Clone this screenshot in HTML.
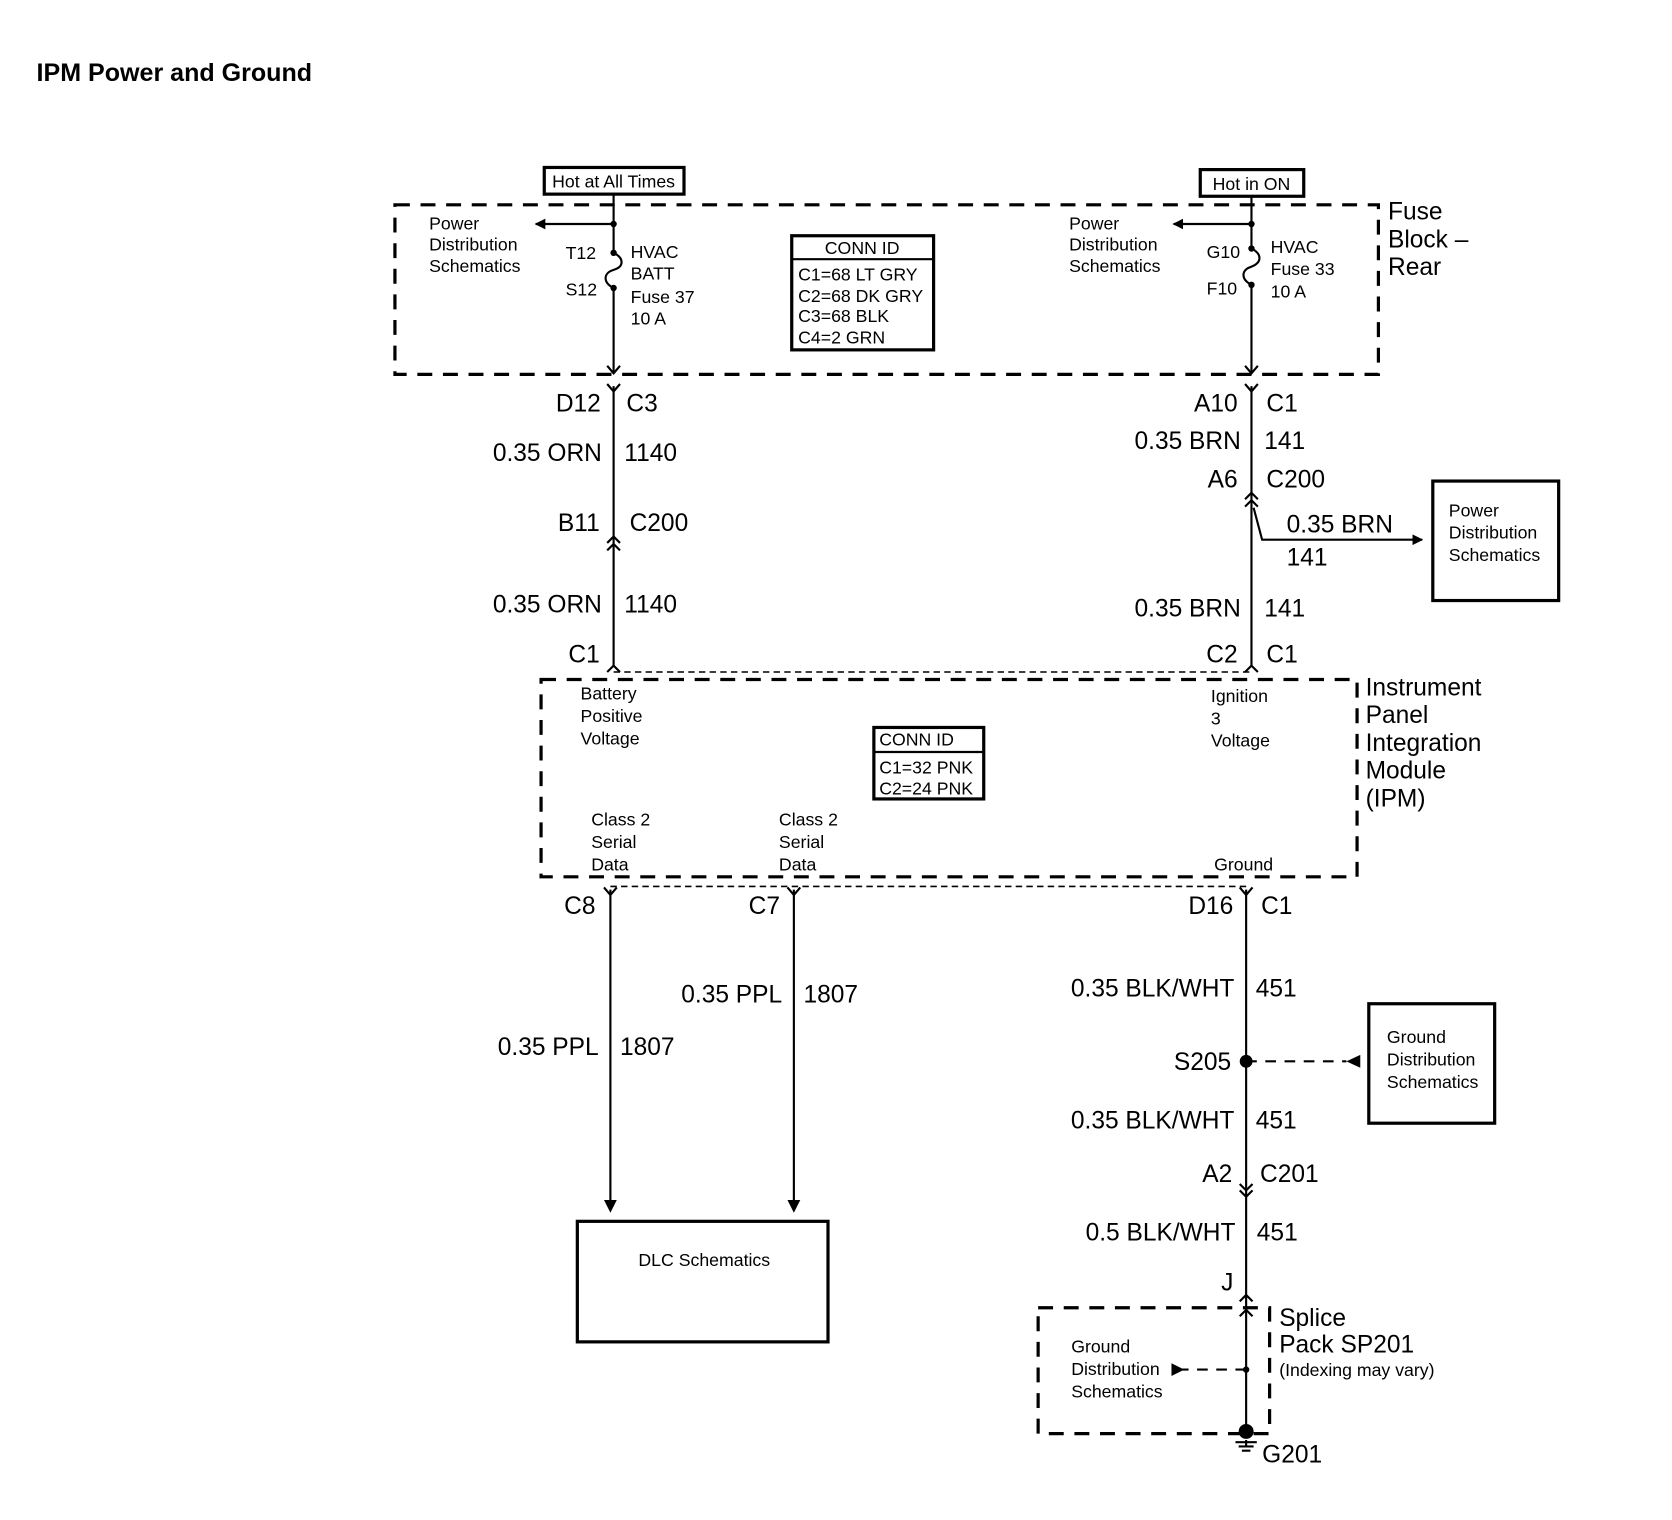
<!DOCTYPE html>
<html><head><meta charset="utf-8"><style>
html,body{margin:0;padding:0;background:#fff}
svg{display:block}
text{font-family:"Liberation Sans",Arial,sans-serif;fill:#000}
.s{font-size:16.6px}
.l{font-size:23px}
.r{text-anchor:end}
</style></head><body>
<svg width="1672" height="1520" viewBox="0 0 1567 1425" xmlns="http://www.w3.org/2000/svg">
<defs>
<marker id="fa" markerWidth="10" markerHeight="10" refX="9" refY="5" orient="auto" markerUnits="userSpaceOnUse"><path d="M0,0 L10,5 L0,10 z" fill="#000"/></marker>
</defs>
<g fill="none" stroke="#000">
<rect x="370" y="192" width="922" height="159" stroke-width="3" stroke-dasharray="14,10"/>
<rect x="507" y="637" width="765" height="185" stroke-width="3" stroke-dasharray="14,10"/>
<rect x="973" y="1226" width="217" height="118" stroke-width="3" stroke-dasharray="14,10"/>
<line x1="575" y1="630" x2="1173" y2="630" stroke-width="1.5" stroke-dasharray="6,4"/>
<line x1="572" y1="831" x2="1168" y2="831" stroke-width="1.5" stroke-dasharray="6,4"/>
<rect x="510" y="157" width="131" height="25" stroke-width="3"/>
<rect x="1125" y="159" width="97" height="25" stroke-width="3"/>
<rect x="742" y="221" width="133" height="107" stroke-width="3"/>
<line x1="742" y1="243" x2="875" y2="243" stroke-width="2"/>
<rect x="819" y="682" width="103" height="67" stroke-width="3"/>
<line x1="819" y1="705" x2="922" y2="705" stroke-width="2"/>
<rect x="1343" y="451" width="118" height="112" stroke-width="3"/>
<rect x="1283" y="941" width="118" height="112" stroke-width="3"/>
<rect x="541" y="1145" width="235" height="113" stroke-width="3"/>
<g stroke-width="2">
<path d="M575,182 V237 M575,270 V350"/>
<path d="M575,237 C585,242 585,250 575,253 C565,256 565,265 575,270"/>
<path d="M575,210 H502" marker-end="url(#fa)"/>
<path d="M569,343 L575,350 L581,343"/>
<path d="M1173,184 V233 M1173,267 V350"/>
<path d="M1173,233 C1183,238 1183,246 1173,250 C1163,253 1163,262 1173,267"/>
<path d="M1173,210 H1100" marker-end="url(#fa)"/>
<path d="M1167,343 L1173,350 L1179,343"/>
<path d="M575,362 V625"/>
<path d="M569,360 L575,367 L581,360"/>
<path d="M569,509 L575,503 L581,509 M569,516 L575,510 L581,516"/>
<path d="M569,630 L575,624 L581,630"/>
<path d="M1173,362 V625"/>
<path d="M1167,360 L1173,367 L1179,360"/>
<path d="M1167,468 L1173,462 L1179,468 M1167,475 L1173,469 L1179,475"/>
<path d="M1175,476 L1183,506 H1333" marker-end="url(#fa)"/>
<path d="M1167,630 L1173,624 L1179,630"/>
<path d="M566,832 L572,839 L578,832 M572,834 V1125"/>
<path d="M738,832 L744,839 L750,832 M744,834 V1125"/>
<path d="M1162,832 L1168,839 L1174,832 M1168,834 V1342"/>
<path d="M1162,1110 L1168,1116 L1174,1110 M1162,1116 L1168,1122 L1174,1116"/>
<path d="M1162,1220 L1168,1214 L1174,1220 M1162,1234 L1168,1228 L1174,1234"/>
<path d="M1168,1350 V1356 M1158,1352 H1178 M1161,1356 H1175 M1164,1360 H1172"/>
</g>
<path d="M1168,995 H1262" stroke-width="2" stroke-dasharray="10,8"/>
<path d="M1168,1284 H1108" stroke-width="2" stroke-dasharray="10,8"/>
</g>
<g fill="#000">
<path d="M572,1137 L566,1125 L578,1125 z"/>
<path d="M744,1137 L738,1125 L750,1125 z"/>
<path d="M1262,995 L1275,989 L1275,1001 z"/>
<path d="M1110,1284 L1098,1278 L1098,1290 z"/>
<circle cx="575" cy="210" r="3"/><circle cx="575" cy="237" r="3"/><circle cx="575" cy="270" r="3"/>
<circle cx="1173" cy="210" r="3"/><circle cx="1173" cy="233" r="3"/><circle cx="1173" cy="267" r="3"/>
<circle cx="1168" cy="995" r="6"/>
<circle cx="1168" cy="1284" r="3"/>
<circle cx="1168" cy="1342" r="7"/>
</g>
<text x="34" y="76" style="font-size:23.5px;font-weight:bold">IPM Power and Ground</text>
<g class="s">
<text x="575" y="176" text-anchor="middle">Hot at All Times</text>
<text x="1173" y="178" text-anchor="middle">Hot in ON</text>
<text x="402" y="215">Power</text><text x="402" y="235">Distribution</text><text x="402" y="255">Schematics</text>
<text x="530" y="243">T12</text><text x="530" y="277">S12</text>
<text x="591" y="242">HVAC</text><text x="591" y="262">BATT</text><text x="591" y="284">Fuse 37</text><text x="591" y="304">10 A</text>
<text x="808" y="238" text-anchor="middle">CONN ID</text>
<text x="748" y="263">C1=68 LT GRY</text><text x="748" y="283">C2=68 DK GRY</text><text x="748" y="302">C3=68 BLK</text><text x="748" y="322">C4=2 GRN</text>
<text x="1002" y="215">Power</text><text x="1002" y="235">Distribution</text><text x="1002" y="255">Schematics</text>
<text x="1131" y="242">G10</text><text x="1131" y="276">F10</text>
<text x="1191" y="237">HVAC</text><text x="1191" y="258">Fuse 33</text><text x="1191" y="279">10 A</text>
<text x="1358" y="484">Power</text><text x="1358" y="505">Distribution</text><text x="1358" y="526">Schematics</text>
<text x="544" y="656">Battery</text><text x="544" y="677">Positive</text><text x="544" y="698">Voltage</text>
<text x="1135" y="658">Ignition</text><text x="1135" y="679">3</text><text x="1135" y="700">Voltage</text>
<text x="824" y="699">CONN ID</text><text x="824" y="725">C1=32 PNK</text><text x="824" y="745">C2=24 PNK</text>
<text x="554" y="774">Class 2</text><text x="554" y="795">Serial</text><text x="554" y="816">Data</text>
<text x="730" y="774">Class 2</text><text x="730" y="795">Serial</text><text x="730" y="816">Data</text>
<text x="1138" y="816">Ground</text>
<text x="1300" y="978">Ground</text><text x="1300" y="999">Distribution</text><text x="1300" y="1020">Schematics</text>
<text x="660" y="1187" text-anchor="middle">DLC Schematics</text>
<text x="1004" y="1268">Ground</text><text x="1004" y="1289">Distribution</text><text x="1004" y="1310">Schematics</text>
<text x="1199" y="1290">(Indexing may vary)</text>
</g>
<g class="l">
<text x="1301" y="206">Fuse</text><text x="1301" y="232">Block –</text><text x="1301" y="258">Rear</text>
<text x="1280" y="652">Instrument</text><text x="1280" y="678">Panel</text><text x="1280" y="704">Integration</text><text x="1280" y="730">Module</text><text x="1280" y="756">(IPM)</text>
<text x="1199" y="1243">Splice</text><text x="1199" y="1268">Pack SP201</text>
<text class="r" x="563" y="386">D12</text><text x="587" y="386">C3</text>
<text class="r" x="564" y="432">0.35 ORN</text><text x="585" y="432">1140</text>
<text class="r" x="562" y="498">B11</text><text x="590" y="498">C200</text>
<text class="r" x="564" y="574">0.35 ORN</text><text x="585" y="574">1140</text>
<text class="r" x="562" y="621">C1</text>
<text class="r" x="1160" y="386">A10</text><text x="1187" y="386">C1</text>
<text class="r" x="1163" y="421">0.35 BRN</text><text x="1185" y="421">141</text>
<text class="r" x="1160" y="457">A6</text><text x="1187" y="457">C200</text>
<text x="1206" y="499">0.35 BRN</text><text x="1206" y="530">141</text>
<text class="r" x="1163" y="578">0.35 BRN</text><text x="1185" y="578">141</text>
<text class="r" x="1160" y="621">C2</text><text x="1187" y="621">C1</text>
<text class="r" x="558" y="857">C8</text><text class="r" x="731" y="857">C7</text>
<text class="r" x="1156" y="857">D16</text><text x="1182" y="857">C1</text>
<text class="r" x="733" y="940">0.35 PPL</text><text x="753" y="940">1807</text>
<text class="r" x="561" y="989">0.35 PPL</text><text x="581" y="989">1807</text>
<text class="r" x="1157" y="934">0.35 BLK/WHT</text><text x="1177" y="934">451</text>
<text class="r" x="1154" y="1003">S205</text>
<text class="r" x="1157" y="1058">0.35 BLK/WHT</text><text x="1177" y="1058">451</text>
<text class="r" x="1155" y="1108">A2</text><text x="1181" y="1108">C201</text>
<text class="r" x="1158" y="1163">0.5 BLK/WHT</text><text x="1178" y="1163">451</text>
<text class="r" x="1156" y="1210">J</text>
<text x="1183" y="1371">G201</text>
</g>
</svg>
</body></html>
